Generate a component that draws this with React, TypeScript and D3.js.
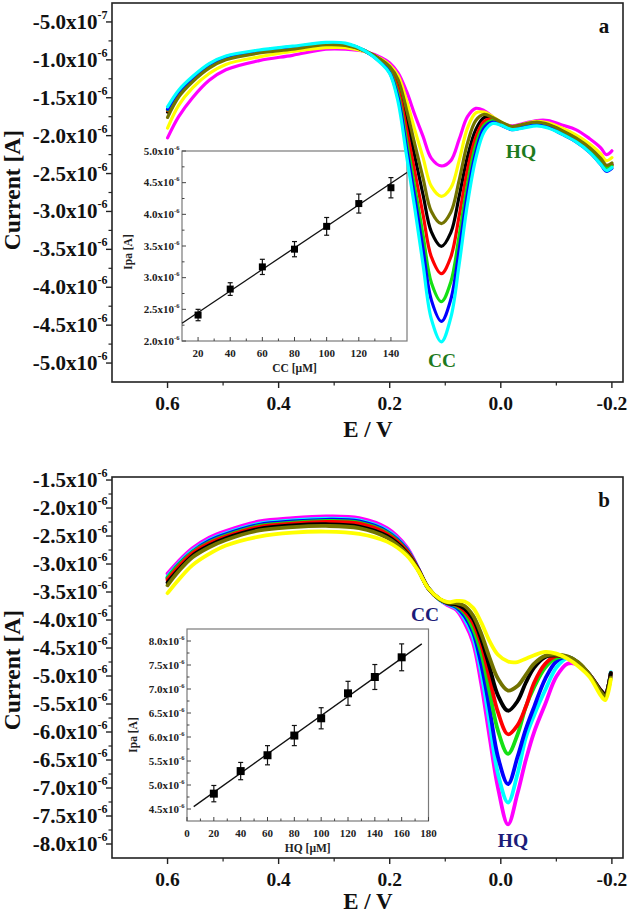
import * as d3 from "d3";

const W = 629;
const H = 914;
const FONT = "'Liberation Serif','Times New Roman',Times,serif";

// ---------- shared x axis (potential, V) ----------
const E_DOMAIN = [0.7, -0.22];
const X_TICKS = [0.6, 0.4, 0.2, 0.0, -0.2];
const X_TICK_LABELS = ["0.6", "0.4", "0.2", "0.0", "-0.2"];
const X_MINOR = [0.5, 0.3, 0.1, -0.1];

// ---------- panel a: CC varied (current in µA) ----------
const E_A = [0.6, 0.58, 0.555, 0.525, 0.495, 0.435, 0.375, 0.315, 0.28, 0.245, 0.215, 0.2, 0.185, 0.17, 0.155, 0.14, 0.125, 0.107, 0.09, 0.075, 0.06, 0.045, 0.03, 0.015, 0.0, -0.02, -0.04, -0.065, -0.085, -0.11, -0.135, -0.16, -0.18, -0.19, -0.2];
const A_CYAN = [-1.62, -1.40, -1.22, -1.05, -0.95, -0.87, -0.82, -0.77, -0.78, -0.88, -1.05, -1.18, -1.55, -2.25, -2.95, -3.70, -4.42, -4.72, -4.40, -3.70, -2.90, -2.30, -1.95, -1.84, -1.86, -1.92, -1.90, -1.87, -1.90, -1.98, -2.08, -2.22, -2.38, -2.46, -2.42];
const A_BLUE = [-1.65, -1.42, -1.24, -1.06, -0.96, -0.88, -0.83, -0.78, -0.79, -0.88, -1.04, -1.17, -1.50, -2.15, -2.81, -3.50, -4.17, -4.45, -4.16, -3.51, -2.77, -2.22, -1.90, -1.82, -1.86, -1.92, -1.89, -1.86, -1.89, -1.98, -2.08, -2.22, -2.38, -2.47, -2.43];
const A_GREEN = [-1.66, -1.43, -1.25, -1.07, -0.97, -0.88, -0.83, -0.78, -0.79, -0.88, -1.03, -1.15, -1.45, -2.05, -2.67, -3.31, -3.94, -4.19, -3.93, -3.32, -2.64, -2.12, -1.86, -1.80, -1.85, -1.91, -1.88, -1.85, -1.88, -1.96, -2.06, -2.19, -2.34, -2.43, -2.40];
const A_RED = [-1.67, -1.44, -1.26, -1.08, -0.97, -0.89, -0.84, -0.79, -0.79, -0.88, -1.02, -1.13, -1.38, -1.90, -2.47, -3.04, -3.60, -3.82, -3.60, -3.06, -2.45, -2.02, -1.81, -1.78, -1.84, -1.90, -1.87, -1.84, -1.87, -1.95, -2.05, -2.18, -2.33, -2.42, -2.39];
const A_BLACK = [-1.69, -1.45, -1.27, -1.09, -0.98, -0.89, -0.84, -0.79, -0.80, -0.88, -1.01, -1.11, -1.32, -1.76, -2.27, -2.78, -3.27, -3.46, -3.28, -2.80, -2.28, -1.92, -1.76, -1.77, -1.83, -1.89, -1.86, -1.83, -1.86, -1.94, -2.04, -2.17, -2.32, -2.41, -2.38];
const A_OLIVE = [-1.76, -1.49, -1.29, -1.11, -1.00, -0.91, -0.86, -0.80, -0.81, -0.88, -1.00, -1.09, -1.26, -1.65, -2.11, -2.56, -3.00, -3.16, -3.01, -2.59, -2.10, -1.80, -1.72, -1.76, -1.82, -1.88, -1.85, -1.82, -1.85, -1.93, -2.03, -2.16, -2.30, -2.39, -2.36];
const A_YELLOW = [-1.90, -1.60, -1.37, -1.18, -1.06, -0.96, -0.89, -0.84, -0.84, -0.89, -0.99, -1.07, -1.21, -1.53, -1.92, -2.29, -2.67, -2.80, -2.69, -2.33, -1.90, -1.70, -1.69, -1.75, -1.82, -1.88, -1.85, -1.81, -1.83, -1.90, -1.99, -2.11, -2.24, -2.33, -2.29];
const A_MAGENTA = [-2.03, -1.75, -1.50, -1.27, -1.13, -1.01, -0.94, -0.86, -0.86, -0.89, -0.97, -1.04, -1.17, -1.41, -1.72, -2.01, -2.30, -2.40, -2.33, -2.05, -1.75, -1.64, -1.67, -1.75, -1.83, -1.87, -1.84, -1.80, -1.80, -1.86, -1.92, -2.04, -2.16, -2.25, -2.20];

const A_Y_TICKS = [-0.5, -1.0, -1.5, -2.0, -2.5, -3.0, -3.5, -4.0, -4.5, -5.0];
const A_Y_MANT = ["-5.0", "-1.0", "-1.5", "-2.0", "-2.5", "-3.0", "-3.5", "-4.0", "-4.5", "-5.0"];
const A_Y_EXP = ["-7", "-6", "-6", "-6", "-6", "-6", "-6", "-6", "-6", "-6"];

// inset a: Ipa vs CC
const INS_A_CONC = [20, 40, 60, 80, 100, 120, 140];
const INS_A_IPA = [2.41, 2.82, 3.17, 3.45, 3.81, 4.17, 4.42];
const INS_A_ERR = [0.09, 0.10, 0.12, 0.12, 0.14, 0.15, 0.16];
const INS_A_FIT_X = [10, 150];
const INS_A_FIT_Y = [2.28, 4.66];
const INS_A_Y_TICKS = [2.0, 2.5, 3.0, 3.5, 4.0, 4.5, 5.0];
const INS_A_X_TICKS = [20, 40, 60, 80, 100, 120, 140];

// ---------- panel b: HQ varied ----------
const E_B = [0.6, 0.58, 0.555, 0.525, 0.495, 0.435, 0.375, 0.315, 0.255, 0.205, 0.17, 0.15, 0.13, 0.11, 0.095, 0.08, 0.065, 0.05, 0.035, 0.02, 0.005, -0.013, -0.03, -0.045, -0.06, -0.08, -0.1, -0.12, -0.14, -0.16, -0.18, -0.188, -0.198];
const B_MAGENTA = [-3.17, -2.95, -2.72, -2.53, -2.41, -2.24, -2.18, -2.15, -2.18, -2.36, -2.69, -3.05, -3.44, -3.64, -3.74, -3.82, -4.05, -4.40, -5.15, -6.10, -7.00, -7.65, -7.10, -6.50, -6.00, -5.50, -5.01, -4.78, -4.80, -4.98, -5.25, -5.32, -4.95];
const B_CYAN = [-3.22, -2.99, -2.76, -2.57, -2.45, -2.28, -2.22, -2.19, -2.22, -2.40, -2.72, -3.06, -3.44, -3.64, -3.72, -3.79, -3.98, -4.30, -4.95, -5.85, -6.75, -7.26, -6.75, -6.10, -5.70, -5.25, -4.85, -4.68, -4.78, -4.98, -5.26, -5.33, -4.93];
const B_BLUE = [-3.25, -3.01, -2.78, -2.59, -2.47, -2.30, -2.24, -2.21, -2.24, -2.42, -2.73, -3.06, -3.44, -3.63, -3.71, -3.77, -3.93, -4.22, -4.80, -5.60, -6.45, -6.93, -6.45, -5.95, -5.55, -5.05, -4.74, -4.66, -4.77, -4.98, -5.26, -5.33, -4.95];
const B_GREEN = [-3.25, -3.02, -2.79, -2.61, -2.49, -2.32, -2.26, -2.23, -2.26, -2.44, -2.75, -3.07, -3.44, -3.63, -3.70, -3.75, -3.88, -4.15, -4.60, -5.30, -5.98, -6.39, -6.05, -5.55, -5.20, -4.85, -4.68, -4.66, -4.77, -4.98, -5.26, -5.33, -4.95];
const B_RED = [-3.28, -3.05, -2.81, -2.63, -2.51, -2.34, -2.28, -2.25, -2.28, -2.46, -2.76, -3.07, -3.44, -3.63, -3.70, -3.73, -3.84, -4.05, -4.45, -5.05, -5.65, -6.04, -5.88, -5.55, -5.12, -4.78, -4.64, -4.66, -4.77, -4.98, -5.26, -5.33, -4.95];
const B_BLACK = [-3.33, -3.10, -2.85, -2.67, -2.54, -2.37, -2.31, -2.29, -2.33, -2.50, -2.79, -3.08, -3.44, -3.63, -3.70, -3.72, -3.80, -3.98, -4.35, -4.85, -5.35, -5.62, -5.45, -5.12, -4.85, -4.66, -4.63, -4.66, -4.77, -4.98, -5.26, -5.33, -4.95];
const B_OLIVE = [-3.38, -3.13, -2.88, -2.70, -2.57, -2.40, -2.34, -2.32, -2.36, -2.53, -2.81, -3.09, -3.44, -3.63, -3.69, -3.70, -3.75, -3.92, -4.25, -4.68, -5.05, -5.26, -5.18, -4.98, -4.78, -4.64, -4.62, -4.65, -4.76, -4.98, -5.28, -5.36, -5.03];
const B_YELLOW = [-3.52, -3.28, -3.02, -2.82, -2.67, -2.51, -2.44, -2.42, -2.46, -2.60, -2.84, -3.10, -3.44, -3.62, -3.68, -3.66, -3.67, -3.78, -4.05, -4.38, -4.62, -4.74, -4.75, -4.69, -4.63, -4.57, -4.60, -4.69, -4.83, -5.02, -5.35, -5.43, -5.06];

const B_Y_TICKS = [-1.5, -2.0, -2.5, -3.0, -3.5, -4.0, -4.5, -5.0, -5.5, -6.0, -6.5, -7.0, -7.5, -8.0];
const B_Y_MANT = ["-1.5", "-2.0", "-2.5", "-3.0", "-3.5", "-4.0", "-4.5", "-5.0", "-5.5", "-6.0", "-6.5", "-7.0", "-7.5", "-8.0"];

// inset b: Ipa vs HQ
const INS_B_CONC = [20, 40, 60, 80, 100, 120, 140, 160];
const INS_B_IPA = [4.82, 5.29, 5.62, 6.03, 6.39, 6.91, 7.25, 7.66];
const INS_B_ERR = [0.17, 0.18, 0.20, 0.21, 0.22, 0.25, 0.26, 0.28];
const INS_B_FIT_X = [5, 175];
const INS_B_FIT_Y = [4.55, 7.94];
const INS_B_Y_TICKS = [4.5, 5.0, 5.5, 6.0, 6.5, 7.0, 7.5, 8.0];
const INS_B_X_TICKS = [0, 20, 40, 60, 80, 100, 120, 140, 160, 180];

const CYAN = "#00ffff";
const BLUE = "#0000ff";
const GREEN = "#14e014";
const RED = "#ff0000";
const BLACK = "#000000";
const OLIVE = "#737300";
const YELLOW = "#ffff00";
const MAGENTA = "#ff00ff";

const AXIS = "#222";

function midpoints(arr) {
  return arr.slice(1).map((v, i) => (v + arr[i]) / 2);
}

function Panel({ top, bottom, yDomain, energy, curves, yTicks, yMant, yExp, lineW, children }) {
  const left = 112;
  const right = 623;
  const x = d3.scaleLinear().domain(E_DOMAIN).range([left, right]);
  const y = d3.scaleLinear().domain(yDomain).range([bottom, top]);
  const line = d3
    .line()
    .x((_, i) => x(energy[i]))
    .y((d) => y(d))
    .curve(d3.curveCatmullRom.alpha(0.5));
  const yMinor = midpoints(yTicks);

  return (
    <g>
      {children}
      {curves.map((c) => (
        <path
          key={c.color}
          d={line(c.values)}
          fill="none"
          stroke={c.color}
          strokeWidth={lineW}
          strokeLinejoin="round"
          strokeLinecap="round"
        />
      ))}

      {/* frame */}
      <rect x={left} y={top} width={right - left} height={bottom - top} fill="none" stroke={AXIS} strokeWidth={1.6} />

      {/* x axis */}
      {X_TICKS.map((t, i) => (
        <g key={t}>
          <line x1={x(t)} x2={x(t)} y1={bottom} y2={bottom + 6} stroke={AXIS} strokeWidth={1.4} />
          <text
            x={x(t)}
            y={bottom + 28}
            textAnchor="middle"
            fontFamily={FONT}
            fontWeight="bold"
            fontSize={19.5}
            fill="#111"
          >
            {X_TICK_LABELS[i]}
          </text>
        </g>
      ))}
      {X_MINOR.map((t) => (
        <line key={t} x1={x(t)} x2={x(t)} y1={bottom} y2={bottom + 3.5} stroke={AXIS} strokeWidth={1.2} />
      ))}

      {/* y axis */}
      {yTicks.map((t, i) => (
        <g key={t}>
          <line x1={left - 6} x2={left} y1={y(t)} y2={y(t)} stroke={AXIS} strokeWidth={1.4} />
          <text
            x={107.5}
            y={y(t) + 7}
            textAnchor="end"
            fontFamily={FONT}
            fontWeight="bold"
            fontSize={21}
            fill="#111"
          >
            <tspan>{yMant[i]}x10</tspan>
            <tspan dy={-10} fontSize={12}>
              {yExp ? yExp[i] : "-6"}
            </tspan>
          </text>
        </g>
      ))}
      {yMinor.map((t) => (
        <line key={t} x1={left - 3.5} x2={left} y1={y(t)} y2={y(t)} stroke={AXIS} strokeWidth={1.2} />
      ))}
    </g>
  );
}

function Inset({ left, right, top, bottom, xDomain, yDomain, xTicks, yTicks, conc, ipa, err, fitX, fitY, xTitle, ipaLabelY, marker }) {
  const x = d3.scaleLinear().domain(xDomain).range([left, right]);
  const y = d3.scaleLinear().domain(yDomain).range([bottom, top]);
  const xMinor = midpoints(xTicks)
    .concat(xTicks[0] - 10 > xDomain[0] ? [xTicks[0] - 10] : [])
    .concat([xTicks[xTicks.length - 1] + 10].filter((v) => v < xDomain[1]));
  const yMinor = midpoints(yTicks);
  const fs = 11;
  return (
    <g>
      <rect x={left} y={top} width={right - left} height={bottom - top} fill="none" stroke="#7a7a7a" strokeWidth={1.2} />
      {xTicks.map((t) => (
        <g key={t}>
          <line x1={x(t)} x2={x(t)} y1={bottom} y2={bottom - 4} stroke="#444" strokeWidth={1} />
          <text x={x(t)} y={bottom + 15.5} textAnchor="middle" fontFamily={FONT} fontWeight="bold" fontSize={fs} fill="#222">
            {t}
          </text>
        </g>
      ))}
      {xMinor.map((t) => (
        <line key={t} x1={x(t)} x2={x(t)} y1={bottom} y2={bottom - 2.5} stroke="#444" strokeWidth={1} />
      ))}
      {yTicks.map((t) => (
        <g key={t}>
          <line x1={left} x2={left + 4} y1={y(t)} y2={y(t)} stroke="#444" strokeWidth={1} />
          <text x={left - 2.5} y={y(t) + 3.5} textAnchor="end" fontFamily={FONT} fontWeight="bold" fontSize={fs} fill="#222">
            <tspan>{t.toFixed(1)}x10</tspan>
            <tspan dy={-5} fontSize={6.5}>
              -6
            </tspan>
          </text>
        </g>
      ))}
      {yMinor.map((t) => (
        <line key={t} x1={left} x2={left + 2.5} y1={y(t)} y2={y(t)} stroke="#444" strokeWidth={1} />
      ))}
      <text
        x={(left + right) / 2}
        y={bottom + 30.5}
        textAnchor="middle"
        fontFamily={FONT}
        fontWeight="bold"
        fontSize={11.5}
        fill="#222"
      >
        {xTitle}
      </text>
      <text
        transform={`translate(${left - 50},${ipaLabelY}) rotate(-90)`}
        textAnchor="middle"
        fontFamily={FONT}
        fontWeight="bold"
        fontSize={11.5}
        fill="#222"
      >
        Ipa [A]
      </text>

      {/* fit line */}
      <line x1={x(fitX[0])} x2={x(fitX[1])} y1={y(fitY[0])} y2={y(fitY[1])} stroke="#111" strokeWidth={1.3} />

      {/* points with error bars */}
      {conc.map((c, i) => {
        const cx = x(c);
        const yt = y(ipa[i] + err[i]);
        const yb = y(ipa[i] - err[i]);
        return (
          <g key={c}>
            <line x1={cx} x2={cx} y1={yt} y2={yb} stroke="#111" strokeWidth={1.2} />
            <line x1={cx - 2.5} x2={cx + 2.5} y1={yt} y2={yt} stroke="#111" strokeWidth={1.2} />
            <line x1={cx - 2.5} x2={cx + 2.5} y1={yb} y2={yb} stroke="#111" strokeWidth={1.2} />
            <rect x={cx - marker / 2} y={y(ipa[i]) - marker / 2} width={marker} height={marker} fill="#000" />
          </g>
        );
      })}
    </g>
  );
}

export default function App() {
  // later entries are painted on top
  const curvesA = [
    { color: MAGENTA, values: A_MAGENTA },
    { color: YELLOW, values: A_YELLOW },
    { color: BLACK, values: A_BLACK },
    { color: RED, values: A_RED },
    { color: GREEN, values: A_GREEN },
    { color: BLUE, values: A_BLUE },
    { color: OLIVE, values: A_OLIVE },
    { color: CYAN, values: A_CYAN },
  ];
  const curvesB = [
    { color: MAGENTA, values: B_MAGENTA },
    { color: CYAN, values: B_CYAN },
    { color: BLUE, values: B_BLUE },
    { color: GREEN, values: B_GREEN },
    { color: RED, values: B_RED },
    { color: BLACK, values: B_BLACK },
    { color: OLIVE, values: B_OLIVE },
    { color: YELLOW, values: B_YELLOW },
  ];

  const labelStyle = { fontFamily: FONT, fontWeight: "bold" as const };

  return (
    <svg width={W} height={H} style={{ position: "absolute", left: 0, top: 0, background: "#fff" }}>
      <rect width={W} height={H} fill="#fff" />

      {/* ---- panel a ---- */}
      <Panel
        top={3}
        bottom={382}
        yDomain={[-5.25, -0.25]}
        energy={E_A}
        curves={curvesA}
        yTicks={A_Y_TICKS}
        yMant={A_Y_MANT}
        yExp={A_Y_EXP}
        lineW={3.2}
      >
        <Inset
          left={182}
          right={407}
          top={151}
          bottom={341}
          xDomain={[10, 150]}
          yDomain={[2.0, 5.0]}
          xTicks={INS_A_X_TICKS}
          yTicks={INS_A_Y_TICKS}
          conc={INS_A_CONC}
          ipa={INS_A_IPA}
          err={INS_A_ERR}
          fitX={INS_A_FIT_X}
          fitY={INS_A_FIT_Y}
          xTitle="CC [µM]"
          ipaLabelY={252}
          marker={7}
        />
      </Panel>
      <text x={604} y={33} textAnchor="middle" fontSize={21} {...labelStyle} fill="#111">a</text>
      <text x={521} y={158} textAnchor="middle" fontSize={19.5} {...labelStyle} fill="#1e7a1e">HQ</text>
      <text x={442} y={367} textAnchor="middle" fontSize={19.5} {...labelStyle} fill="#1e7a1e">CC</text>
      <text x={368} y={437} textAnchor="middle" fontSize={23} {...labelStyle} fill="#111">E / V</text>
      <text transform="translate(20,190) rotate(-90)" textAnchor="middle" fontSize={23.5} {...labelStyle} fill="#111">
        Current [A]
      </text>

      {/* ---- panel b ---- */}
      <Panel
        top={477}
        bottom={858}
        yDomain={[-8.25, -1.446]}
        energy={E_B}
        curves={curvesB}
        yTicks={B_Y_TICKS}
        yMant={B_Y_MANT}
        yExp={null}
        lineW={3.8}
      >
        <Inset
          left={187}
          right={428.5}
          top={629}
          bottom={821}
          xDomain={[0, 180]}
          yDomain={[4.25, 8.25]}
          xTicks={INS_B_X_TICKS}
          yTicks={INS_B_Y_TICKS}
          conc={INS_B_CONC}
          ipa={INS_B_IPA}
          err={INS_B_ERR}
          fitX={INS_B_FIT_X}
          fitY={INS_B_FIT_Y}
          xTitle="HQ [µM]"
          ipaLabelY={735}
          marker={8}
        />
      </Panel>
      <text x={604} y={507} textAnchor="middle" fontSize={21} {...labelStyle} fill="#111">b</text>
      <text x={425} y={621} textAnchor="middle" fontSize={19.5} {...labelStyle} fill="#1c1c78">CC</text>
      <text x={513} y={847} textAnchor="middle" fontSize={19.5} {...labelStyle} fill="#1c1c78">HQ</text>
      <text x={368} y={909} textAnchor="middle" fontSize={23} {...labelStyle} fill="#111">E / V</text>
      <text transform="translate(20,670) rotate(-90)" textAnchor="middle" fontSize={23.5} {...labelStyle} fill="#111">
        Current [A]
      </text>
    </svg>
  );
}
